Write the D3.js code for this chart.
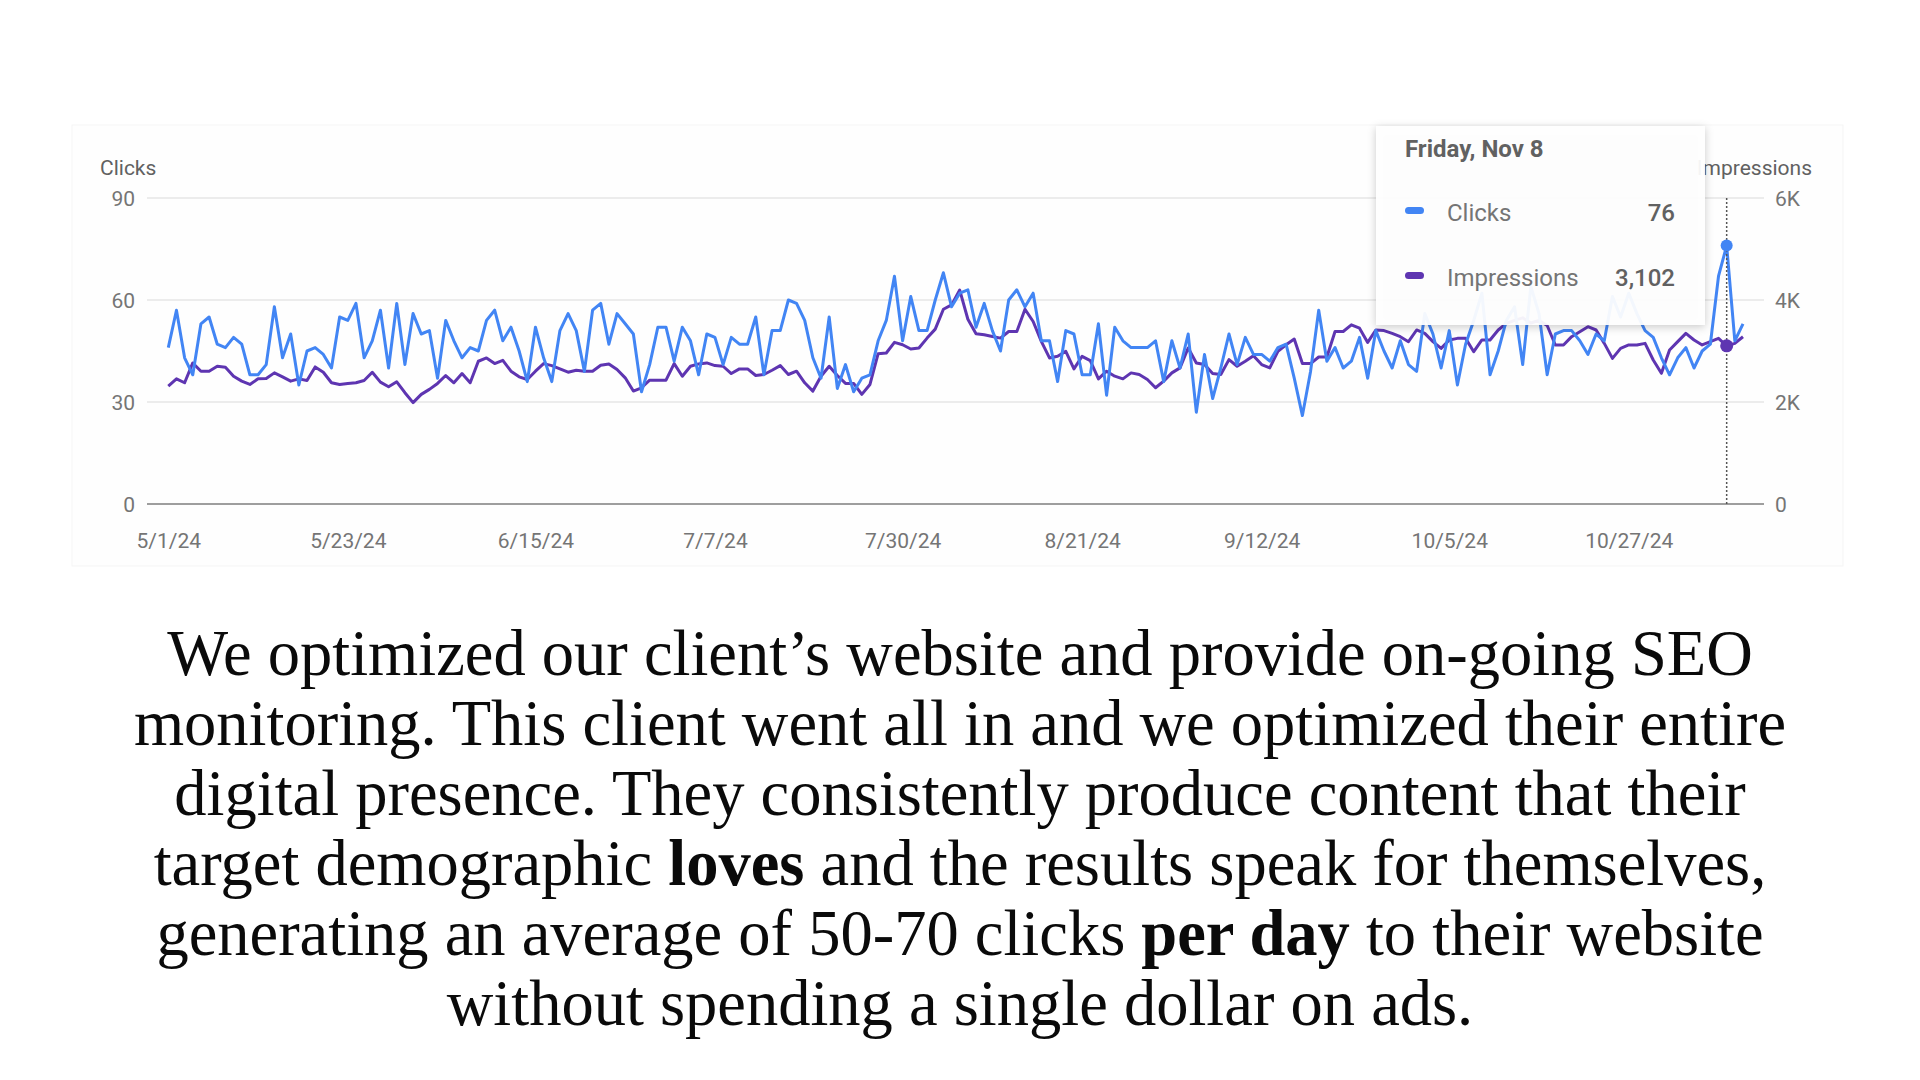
<!DOCTYPE html>
<html>
<head>
<meta charset="utf-8">
<script src="https://cdn.jsdelivr.net/npm/d3@7"></script>
<style>
  body { margin: 0; background: #fff; }
  svg { display: block; }
</style>
</head>
<body>
<svg id="chart" width="1920" height="1080"></svg>
<script>
// daily values, 5/1/24 .. 11/10/24
const startDate = new Date(2024, 4, 1);

const clicks = [
  46, 57, 43, 38, 53, 55, 47, 46, 49, 47,
  38, 38, 41, 58, 43, 50, 35, 45, 46, 44,
  40, 55, 54, 59, 43, 48, 57, 40, 59, 41,
  56, 50, 51, 37, 54, 48, 43, 46, 45, 54,
  57, 48, 52, 45, 36, 52, 43, 36, 51, 56,
  51, 39, 57, 59, 47, 56, 53, 50, 33, 41,
  52, 52, 42, 52, 48, 38, 50, 49, 41, 49,
  47, 47, 55, 38, 51, 51, 60, 59, 54, 43,
  37, 55, 34, 41, 33, 37, 38, 48, 54, 67,
  48, 61, 51, 51, 60, 68, 58, 62, 63, 52,
  59, 51, 45, 60, 63, 58, 62, 48, 48, 36,
  51, 50, 38, 38, 53, 32, 52, 48, 46, 46,
  46, 48, 36, 48, 40, 50, 27, 44, 31, 40,
  50, 41, 49, 44, 44, 42, 46, 47, 37, 26,
  39, 57, 42, 46, 40, 42, 49, 37, 51, 45,
  40, 48, 41, 39, 56, 50, 40, 51, 35, 47,
  54, 62, 38, 45, 54, 58, 41, 64, 56, 38,
  50, 51, 51, 48, 44, 50, 48, 61, 55, 62,
  56, 51, 49, 43, 38, 43, 46, 40, 45, 47,
  67, 76, 48, 53
];

const impressions = [
  2312, 2454, 2377, 2766, 2604, 2604, 2701, 2682, 2506, 2409,
  2344, 2454, 2461, 2571, 2493, 2409, 2454, 2422, 2688, 2584,
  2377, 2344, 2364, 2377, 2422, 2584, 2390, 2299, 2396, 2182,
  1987, 2149, 2247, 2364, 2519, 2377, 2558, 2377, 2799, 2864,
  2753, 2818, 2604, 2493, 2441, 2604, 2753, 2714, 2649, 2584,
  2623, 2604, 2604, 2721, 2747, 2636, 2474, 2214, 2279, 2428,
  2428, 2428, 2753, 2506, 2701, 2747, 2766, 2714, 2701, 2558,
  2649, 2649, 2519, 2539, 2623, 2714, 2539, 2604, 2377, 2214,
  2506, 2701, 2519, 2364, 2364, 2149, 2344, 2948, 2961, 3169,
  3123, 3039, 3058, 3253, 3429, 3818, 3903, 4195, 3623, 3338,
  3318, 3286, 3253, 3383, 3383, 3818, 3578, 3188, 2864, 2896,
  2994, 2649, 2896, 2812, 2454, 2604, 2506, 2454, 2571, 2539,
  2441, 2279, 2409, 2571, 2669, 3058, 2766, 2734, 2558, 2539,
  2831, 2701, 2799, 2909, 2734, 2669, 2994, 3123, 3234, 2753,
  2753, 2883, 2883, 3383, 3383, 3513, 3448, 3169, 3412, 3400,
  3346, 3281, 3183, 3412, 3346, 3183, 3052, 3216, 3248, 3248,
  2987, 3216, 3216, 3412, 3542, 3600, 3650, 3550, 3600, 3500,
  3118, 3118, 3281, 3379, 3477, 3412, 3150, 2856, 3052, 3118,
  3118, 3150, 2824, 2562, 3020, 3183, 3346, 3216, 3118, 3183,
  3248, 3102, 3150, 3280
];

const xTickLabels = ["5/1/24", "5/23/24", "6/15/24", "7/7/24", "7/30/24", "8/21/24", "9/12/24", "10/5/24", "10/27/24"];
const clickTicks = [0, 30, 60, 90];
const impressionTicks = [0, 2000, 4000, 6000];

const hoverDay = "11/8/24";
const hoverTitle = "Friday, Nov 8";

const paragraph = [
  [["We optimized our client’s website and provide on-going SEO", false]],
  [["monitoring. This client went all in and we optimized their entire", false]],
  [["digital presence. They consistently produce content that their", false]],
  [["target demographic ", false], ["loves", true], [" and the results speak for themselves,", false]],
  [["generating an average of 50-70 clicks ", false], ["per day", true], [" to their website", false]],
  [["without spending a single dollar on ads.", false]]
];

const parseDate = d3.timeParse("%m/%d/%y");
const days = clicks.map((c, i) => ({
  date: d3.timeDay.offset(startDate, i),
  clicks: c,
  impressions: impressions[i],
}));

const blue = "#4285f4";
const purple = "#5e35b1";
const grey = "#757575";
const font = "Roboto, 'Noto Sans', sans-serif";

const svg = d3.select("#chart");

// faint card behind the chart
svg.append("rect")
  .attr("x", 72).attr("y", 125)
  .attr("width", 1771).attr("height", 441)
  .attr("fill", "#fefefe")
  .attr("stroke", "#f5f5f5");

const x = d3.scaleTime()
  .domain([days[0].date, days[days.length - 1].date])
  .range([168.3, 168.3 + 8.159 * (days.length - 1)]);

const yClicks = d3.scaleLinear().domain([0, 90]).range([504, 198]);
const yImpr = d3.scaleLinear().domain([0, 6000]).range([504, 198]);

const gridLeft = 147;
const gridRight = 1764;

// gridlines
svg.append("g")
  .selectAll("line")
  .data(clickTicks.filter(t => t > 0))
  .join("line")
  .attr("x1", gridLeft).attr("x2", gridRight)
  .attr("y1", d => yClicks(d)).attr("y2", d => yClicks(d))
  .attr("stroke", "#e6e6e6")
  .attr("stroke-width", 1.5);

svg.append("line")
  .attr("x1", gridLeft).attr("x2", gridRight)
  .attr("y1", yClicks(0)).attr("y2", yClicks(0))
  .attr("stroke", "#9e9e9e")
  .attr("stroke-width", 2);

// left axis
const leftAxis = svg.append("g")
  .attr("transform", `translate(135,0)`)
  .call(d3.axisLeft(yClicks).tickValues(clickTicks).tickSize(0).tickPadding(0));
leftAxis.select(".domain").remove();
leftAxis.selectAll("text")
  .attr("dy", "0.36em")
  .style("font-family", font)
  .style("font-size", "21px")
  .attr("fill", grey);

// right axis
const rightAxis = svg.append("g")
  .attr("transform", `translate(1775,0)`)
  .call(d3.axisRight(yImpr)
    .tickValues(impressionTicks)
    .tickSize(0).tickPadding(0)
    .tickFormat(d => d === 0 ? "0" : d / 1000 + "K"));
rightAxis.select(".domain").remove();
rightAxis.selectAll("text")
  .attr("dy", "0.36em")
  .style("font-family", font)
  .style("font-size", "21px")
  .attr("fill", grey);

// bottom axis
const bottomAxis = svg.append("g")
  .attr("transform", `translate(0,${yClicks(0)})`)
  .call(d3.axisBottom(x)
    .tickValues(xTickLabels.map(parseDate))
    .tickSize(0).tickPadding(0)
    .tickFormat(d3.timeFormat("%-m/%-d/%y")));
bottomAxis.select(".domain").remove();
bottomAxis.selectAll("text")
  .attr("dy", 0)
  .attr("y", 44)
  .style("font-family", font)
  .style("font-size", "21px")
  .attr("fill", grey);

// axis titles
svg.append("text")
  .attr("x", 100).attr("y", 175)
  .style("font-family", font).style("font-size", "21px")
  .attr("fill", "#616161")
  .text("Clicks");

svg.append("text")
  .attr("x", 1812).attr("y", 175)
  .attr("text-anchor", "end")
  .style("font-family", font).style("font-size", "21px")
  .attr("fill", "#616161")
  .text("Impressions");

// lines
const clickLine = d3.line().x(d => x(d.date)).y(d => yClicks(d.clicks));
const imprLine = d3.line().x(d => x(d.date)).y(d => yImpr(d.impressions));

svg.append("path")
  .datum(days)
  .attr("d", imprLine)
  .attr("fill", "none")
  .attr("stroke", purple)
  .attr("stroke-width", 3)
  .attr("stroke-linejoin", "round");

svg.append("path")
  .datum(days)
  .attr("d", clickLine)
  .attr("fill", "none")
  .attr("stroke", blue)
  .attr("stroke-width", 3)
  .attr("stroke-linejoin", "round");

// hover marker
const hover = days.find(d => +d.date === +parseDate(hoverDay));

svg.append("line")
  .attr("x1", x(hover.date)).attr("x2", x(hover.date))
  .attr("y1", yClicks(90)).attr("y2", yClicks(0))
  .attr("stroke", "#555")
  .attr("stroke-width", 1.5)
  .attr("stroke-dasharray", "2,2");

svg.append("circle")
  .attr("cx", x(hover.date)).attr("cy", yClicks(hover.clicks))
  .attr("r", 6).attr("fill", blue);

svg.append("circle")
  .attr("cx", x(hover.date)).attr("cy", yImpr(hover.impressions))
  .attr("r", 6.5).attr("fill", purple);

// tooltip
const defs = svg.append("defs");
defs.append("filter")
  .attr("id", "shadow")
  .attr("x", "-10%").attr("y", "-10%")
  .attr("width", "120%").attr("height", "130%")
  .append("feDropShadow")
  .attr("dx", 0).attr("dy", 2)
  .attr("stdDeviation", 4)
  .attr("flood-color", "#000")
  .attr("flood-opacity", 0.22);

const tip = svg.append("g").attr("transform", "translate(1376,126)");

tip.append("rect")
  .attr("width", 329).attr("height", 199)
  .attr("fill", "#fff")
  .attr("fill-opacity", 0.93)
  .attr("filter", "url(#shadow)");

tip.append("text")
  .attr("x", 29).attr("y", 31)
  .style("font-family", font).style("font-size", "24px").style("font-weight", 700)
  .attr("fill", "#616161")
  .text(hoverTitle);

const tipRows = [
  { name: "Clicks", color: blue, value: d3.format(",")(hover.clicks) },
  { name: "Impressions", color: purple, value: d3.format(",")(hover.impressions) },
];

const rows = tip.selectAll(".row")
  .data(tipRows)
  .join("g")
  .attr("class", "row")
  .attr("transform", (d, i) => `translate(0,${95 + i * 65})`);

rows.append("rect")
  .attr("x", 29).attr("y", -14)
  .attr("width", 19).attr("height", 7)
  .attr("rx", 3.5)
  .attr("fill", d => d.color);

rows.append("text")
  .attr("x", 71).attr("y", 0)
  .style("font-family", font).style("font-size", "24px")
  .attr("fill", grey)
  .text(d => d.name);

rows.append("text")
  .attr("x", 299).attr("y", 0)
  .attr("text-anchor", "end")
  .style("font-family", font).style("font-size", "24px").style("font-weight", 500)
  .attr("fill", "#616161")
  .text(d => d.value);

// paragraph below the chart
const para = svg.append("g")
  .style("font-family", "'Liberation Serif', 'Times New Roman', serif")
  .style("font-size", "64.5px")
  .attr("fill", "#0a0a0a");

para.selectAll("text")
  .data(paragraph)
  .join("text")
  .attr("x", 960)
  .attr("y", (d, i) => 675 + i * 70)
  .attr("text-anchor", "middle")
  .selectAll("tspan")
  .data(d => d)
  .join("tspan")
  .style("font-weight", d => d[1] ? 700 : 400)
  .text(d => d[0]);
</script>
</body>
</html>
